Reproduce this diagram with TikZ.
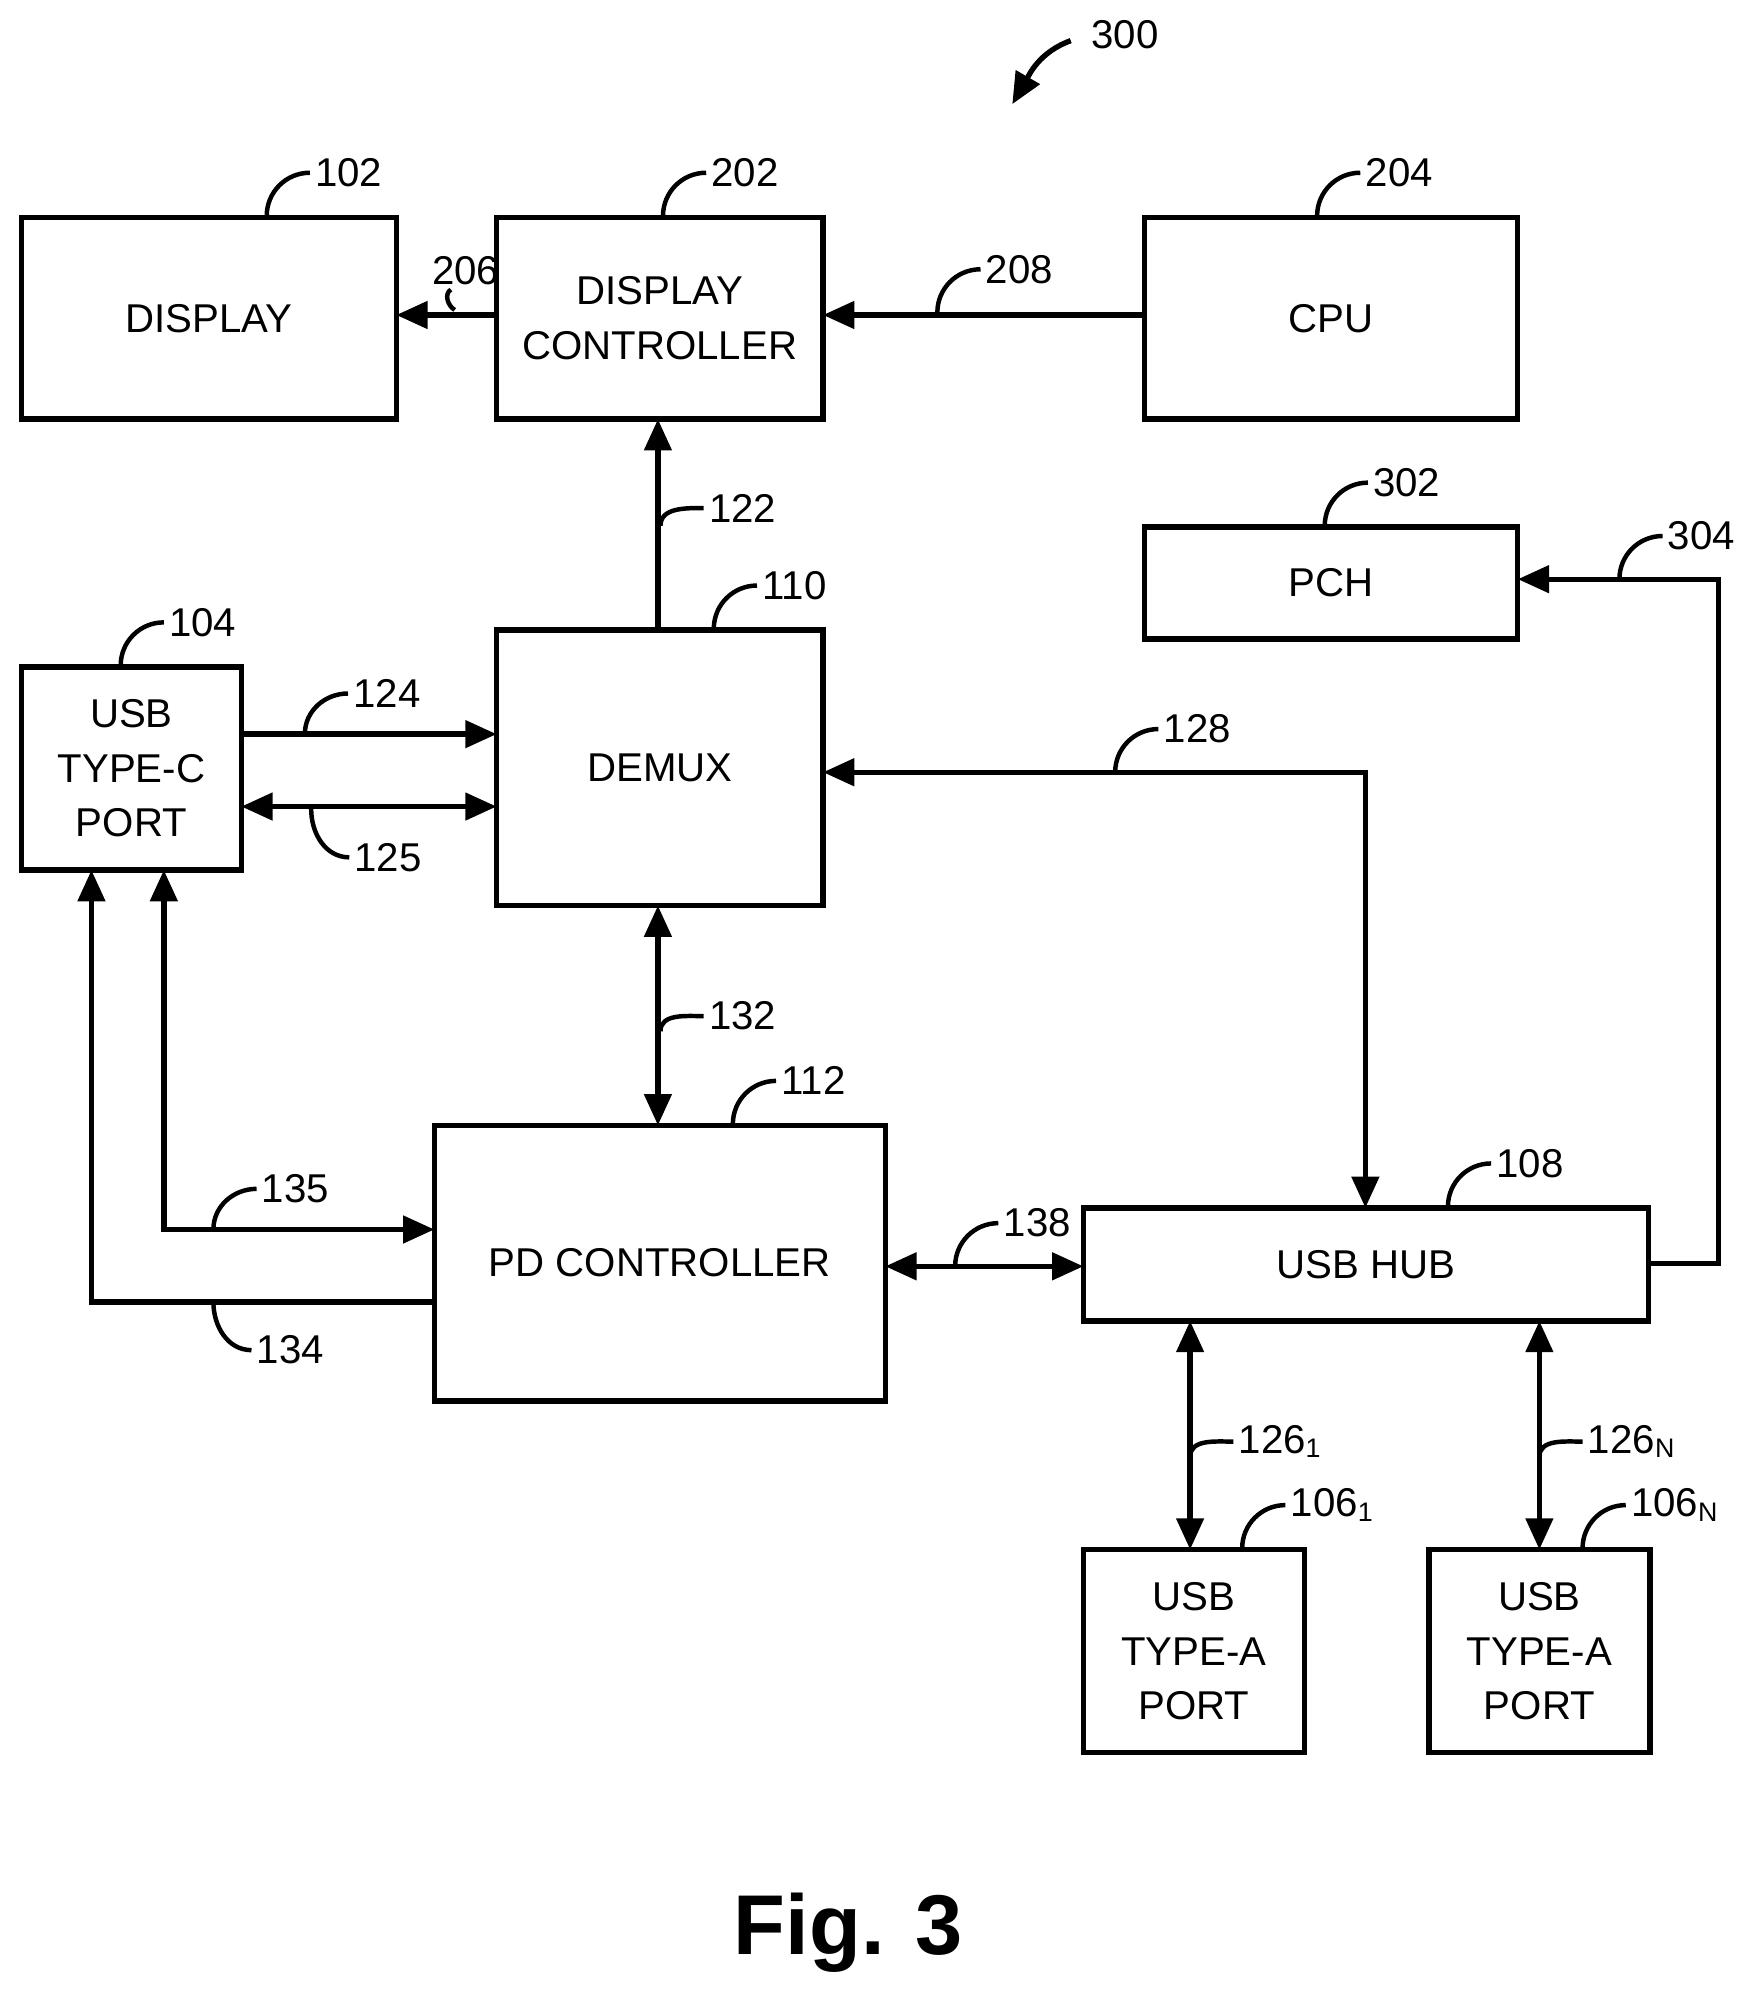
\documentclass[tikz,border=0pt]{standalone}
\usepackage{fontspec}
\setmainfont{Liberation Sans}
\usetikzlibrary{arrows.meta,positioning}
\tikzset{
    >={Triangle[length=7pt,width=6pt]}, % filled heads
    block/.style={draw, line width=1.2pt},
    btext/.style={align=center, font=\fontsize{9}{12.2}\selectfont},
    wire/.style={line width=1.2pt},
    lbl/.style={font=\fontsize{9}{11}\selectfont, inner sep=1pt, anchor=west},
    lead/.style={line width=1pt},
}
\newcommand{\bx}[4]{% name, corner, corner, text
  \draw[block] (#2) rectangle (#3);
  \node[btext] (#1) at ($(#2)!0.5!(#3)$) {#4};}
\usetikzlibrary{calc}
\begin{document}
\begin{tikzpicture}[x=0.01cm,y=-0.01cm]
\useasboundingbox (0,0) rectangle (1380,1566);
% Blocks
\bx{disp}{17,171}{312,330}{DISPLAY}
\bx{dc}{391,171}{648,330}{DISPLAY\\CONTROLLER}
\bx{cpu}{901,171}{1195,330}{CPU}
\bx{pch}{901,415}{1195,503}{PCH}
\bx{tc}{17,525}{190,685}{USB\\TYPE-C\\PORT}
\bx{dmx}{391,496}{648,713}{DEMUX}
\bx{pd}{342,886}{697,1103}{PD CONTROLLER}
\bx{hub}{853,951}{1298,1040}{USB HUB}
\bx{ta1}{853,1220}{1027,1380}{USB\\TYPE-A\\PORT}
\bx{tan}{1125,1220}{1299,1380}{USB\\TYPE-A\\PORT}

% Connectors
\draw[wire,->] (391,248) -- (312,248);
\draw[wire,->] (901,248) -- (648,248);
\draw[wire,->] (518,496) -- (518,330);
\draw[wire,->] (190,578) -- (391,578);
\draw[wire,<->] (190,635) -- (391,635);
\draw[wire,<->] (648,608) -- (1075,608) -- (1075,951);
\draw[wire,<->] (518,713) -- (518,886);
\draw[wire,<->] (129,685) -- (129,968) -- (342,968);
\draw[wire,->] (342,1025) -- (72,1025) -- (72,685);
\draw[wire,<->] (697,997) -- (853,997);
\draw[wire,->] (1298,995) -- (1353,995) -- (1353,456) -- (1195,456);
\draw[wire,<->] (937,1040) -- (937,1220);
\draw[wire,<->] (1212,1040) -- (1212,1220);

% Reference labels
\foreach \n/\x/\y/\dy/\t in {l102/210/170/34/102, l202/522/170/34/202, l204/1037/170/34/204, l302/1043/414/34/302,
    l104/95/524/34/104, l110/562/495/34/110, l112/577/885/34/112, l108/1140/950/34/108,
    l1061/978/1219/34/{106\textsubscript{1}}, l106n/1246/1219/34/{106\textsubscript{N}},
    l208/738/246/34/208, l122/520/414/14/122, l124/240/578/32/124, l128/878/608/34/128,
    l132/520/812/12/132, l135/168/968/32/135, l138/752/997/34/138, l304/1275/456/34/304,
    l1261/937/1147/12/{126\textsubscript{1}}, l126n/1212/1147/12/{126\textsubscript{N}}}{
  \coordinate (\n-a) at (\x,\y);
  \node[lbl] (\n) at (\x+34,\y-\dy) {\t};
  \draw[lead] (\n-a) to[out=90,in=180] (\n.west);
}
\foreach \n/\x/\y/\t in {l125/245/637/125, l134/168/1025/134}{
  \coordinate (\n-a) at (\x,\y);
  \node[lbl] (\n) at (\x+30,\y+38) {\t};
  \draw[lead] (\n-a) to[out=-90,in=180] (\n.west);
}
\node[lbl] (l206) at (336,213) {206};
\draw[lead] (355,228) to[out=-150,in=150] (358,244);
\node[lbl] (l300) at (855,27) {300};
\coordinate (a300) at (843,32);
\draw[line width=1.2pt,->] (a300) to[out=200,in=60] (797,82);
\node[font=\bfseries\fontsize{19}{22}\selectfont] (fig) at (668,1522) {Fig. 3};
\end{tikzpicture}
\end{document}
